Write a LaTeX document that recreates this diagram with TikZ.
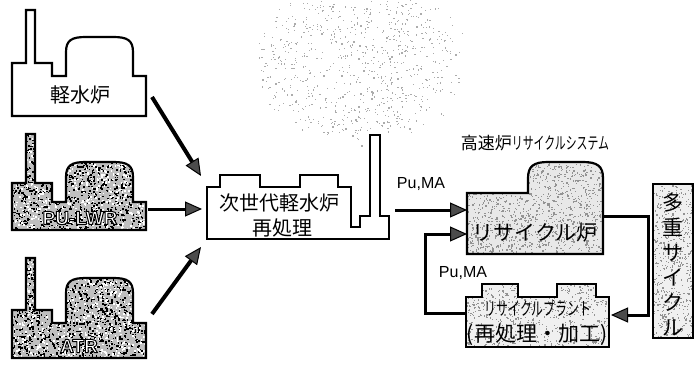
\documentclass[tikz,border=0pt]{standalone}
\usepackage{fontspec}
\usepackage{graphicx}
\setmainfont{Liberation Sans}
\newfontfamily\jp{Noto Sans CJK JP}
\usetikzlibrary{arrows.meta}

\tikzset{
  outline/.style={draw=black, line width=2.2pt, line join=miter},
  headtip/.tip={Triangle[length=17pt,width=15pt,fill=black!70,line width=1pt]},
  bigarrow/.style={line width=4pt, -headtip},
  midarrow/.style={line width=3pt, -headtip},
  link/.style={line width=3pt, line join=miter},
  jplabel/.style={font=\jp\fontsize{20}{24}\selectfont, inner sep=0pt},
  latinlabel/.style={font=\fontsize{16}{18}\selectfont, inner sep=0pt},
  rimfont/.style={font=\fontsize{19}{21}\selectfont\bfseries, inner sep=0pt, text=white},
}

% random specks inside the current clip: xmin ymin xmax ymax count colour size
\newcommand\specks[7]{%
  \foreach \k in {1,...,#5}{%
    \pgfmathsetmacro\sx{#1+rnd*(#3-#1)}%
    \pgfmathsetmacro\sy{#2+rnd*(#4-#2)}%
    \fill[#6] (\sx,\sy) rectangle ++(#7,#7);}}

% white lettering stroked with a black rim (fill + stroke text mode)
\newcommand\rimmed[1]{\special{pdf:code 0 G 1.0 w 1 j 2 Tr}#1\special{pdf:code 0 Tr}}

% outlines of the buildings
\def\lwrpath{(12,116) -- (12,63) -- (26,63) -- (26,10) -- (35,10) -- (35,63) -- (52,63) -- (52,76) -- (66,76) -- (66,52) .. controls (66,40) and (72,37) .. (86,37) -- (113,37) .. controls (127,37) and (133,40) .. (133,52) -- (133,76) -- (146,76) -- (146,116) -- cycle}
\def\pulwrpath{(12,230) -- (12,183) -- (26,183) -- (26,134) -- (35,134) -- (35,183) -- (52,183) -- (52,202) -- (66,202) -- (66,177) .. controls (66,165) and (72,162) .. (86,162) -- (113,162) .. controls (127,162) and (133,165) .. (133,177) -- (133,202) -- (146,202) -- (146,230) -- cycle}
\def\atrpath{(12,358) -- (12,310) -- (26,310) -- (26,258) -- (35,258) -- (35,310) -- (52,310) -- (52,323) -- (66,323) -- (66,293) .. controls (66,281) and (72,278) .. (86,278) -- (113,278) .. controls (127,278) and (133,281) .. (133,293) -- (133,323) -- (146,323) -- (146,358) -- cycle}
\def\reprocpath{(207,239) -- (207,187) -- (220,187) -- (220,175) -- (260,175) -- (260,187) -- (300,187) -- (300,175) -- (338,175) -- (338,187) -- (351,187) -- (351,227) -- (360,227) -- (360,216) -- (370,216) -- (370,135) -- (380,135) -- (380,216) -- (389,216) -- (389,239) -- cycle}
\def\fbrpath{(467,254) -- (467,193) -- (528,193) -- (528,178) .. controls (528,166) and (534,162) .. (548,162) -- (583,162) .. controls (597,162) and (603,166) .. (603,178) -- (603,254) -- cycle}
\def\plantpath{(466,347) -- (466,297) -- (482,297) -- (482,284) -- (518,284) -- (518,297) -- (557,297) -- (557,284) -- (596,284) -- (596,297) -- (609,297) -- (609,347) -- cycle}
\def\multipath{(653,184) -- (693,184) -- (693,338) -- (653,338) -- cycle}

\begin{document}
\begin{tikzpicture}[x=1pt, y=-1pt]
\useasboundingbox (0,0) rectangle (696,367);
\fill[white] (0,0) rectangle (696,367);
\pgfmathsetseed{17}

% smoke drifting up from the reprocessing stack
\begin{scope}
  \clip (250,0) rectangle (470,150);
  \foreach \k in {1,...,800}{%
    \pgfmathsetmacro\ang{360*rnd}%
    \pgfmathsetmacro\rad{sqrt(rnd)*(0.85+0.25*rnd)}%
    \fill[gray!65] ({360+100*\rad*cos(\ang)},{62+78*\rad*sin(\ang)}) rectangle ++(1.2,1.2);}
\end{scope}

% light water reactor
\draw[outline, fill=white] \lwrpath;
\node[jplabel] (lwr) at (80,95) {軽水炉};

% Pu-LWR, coarse dark grain
\begin{scope}
  \clip \pulwrpath;
  \fill[gray!50] (10,130) rectangle (150,232);
  \specks{10}{130}{150}{232}{1500}{black}{1.6}
  \specks{10}{130}{150}{232}{800}{white}{1.6}
\end{scope}
\draw[outline] \pulwrpath;
\node[rimfont] (pulwr) at (80,218) {\rimmed{PU-LWR}};

% ATR, coarse dark grain
\begin{scope}
  \clip \atrpath;
  \fill[gray!50] (10,255) rectangle (150,360);
  \specks{10}{255}{150}{360}{1500}{black}{1.6}
  \specks{10}{255}{150}{360}{800}{white}{1.6}
\end{scope}
\draw[outline] \atrpath;
\node[rimfont] (atr) at (79,346) {\rimmed{ATR}};

% next generation LWR reprocessing
\draw[outline, fill=white] \reprocpath;
\node[jplabel] (reprocA) at (279,203) {次世代軽水炉};
\node[jplabel] (reprocB) at (282,228) {再処理};

% feeds into the reprocessing plant
\coordinate (lwrout) at (152,97);
\coordinate (pulwrout) at (148,209);
\coordinate (atrout) at (152,314);
\coordinate (repin1) at (201,176);
\coordinate (repin2) at (202,209);
\coordinate (repin3) at (201,247);
\draw[bigarrow] (lwrout) -- (repin1);
\draw[midarrow] (pulwrout) -- (repin2);
\draw[bigarrow] (atrout) -- (repin3);

% fast reactor recycle system
\node[font=\jp\fontsize{17}{20}\selectfont, inner sep=0pt] (title) at (535,143) {高速炉\scalebox{0.64}[1]{リサイクルシステム}};

\begin{scope}
  \clip \fbrpath;
  \fill[gray!18] (465,160) rectangle (605,256);
  \specks{465}{160}{605}{256}{1300}{gray!85}{1.3}
\end{scope}
\draw[outline] \fbrpath;
\node[jplabel, font=\jp\fontsize{21}{24}\selectfont] (fbr) at (535,233) {リサイクル炉};

\begin{scope}
  \clip \plantpath;
  \fill[gray!12] (464,282) rectangle (611,349);
  \specks{464}{282}{611}{349}{750}{gray!85}{1.3}
\end{scope}
\draw[outline] \plantpath;
\node[font=\jp\fontsize{18}{20}\selectfont, inner sep=0pt] (plantA) at (538,308) {\scalebox{0.66}[1]{リサイクルプラント}};
\node[jplabel, font=\jp\fontsize{21}{24}\selectfont] (plantB) at (537,335) {(再処理・加工)};

\begin{scope}
  \clip \multipath;
  \fill[gray!12] (651,182) rectangle (695,340);
  \specks{651}{182}{695}{340}{600}{gray!85}{1.3}
\end{scope}
\draw[outline] \multipath;
\node[font=\jp\fontsize{21}{25}\selectfont, inner sep=0pt, align=center] (multi) at (673,264) {多\\重\\サ\\イ\\ク\\ル};

% Pu, MA streams
\node[latinlabel] (puma1) at (421,184) {Pu,MA};
\coordinate (repout) at (395,210);
\coordinate (fbrin1) at (467,210);
\draw[midarrow] (repout) -- (fbrin1);

\node[latinlabel] (puma2) at (463,273) {Pu,MA};
\coordinate (plantout) at (466,313);
\coordinate (fbrin2) at (467,234);
\draw[link, -headtip] (plantout) -| (425,313) |- (fbrin2);

% return from the fast reactor to the plant
\coordinate (fbrout) at (603,216);
\coordinate (plantin) at (611,315);
\draw[link, -headtip] (fbrout) -- (648,216) |- (plantin);
\end{tikzpicture}
\end{document}
